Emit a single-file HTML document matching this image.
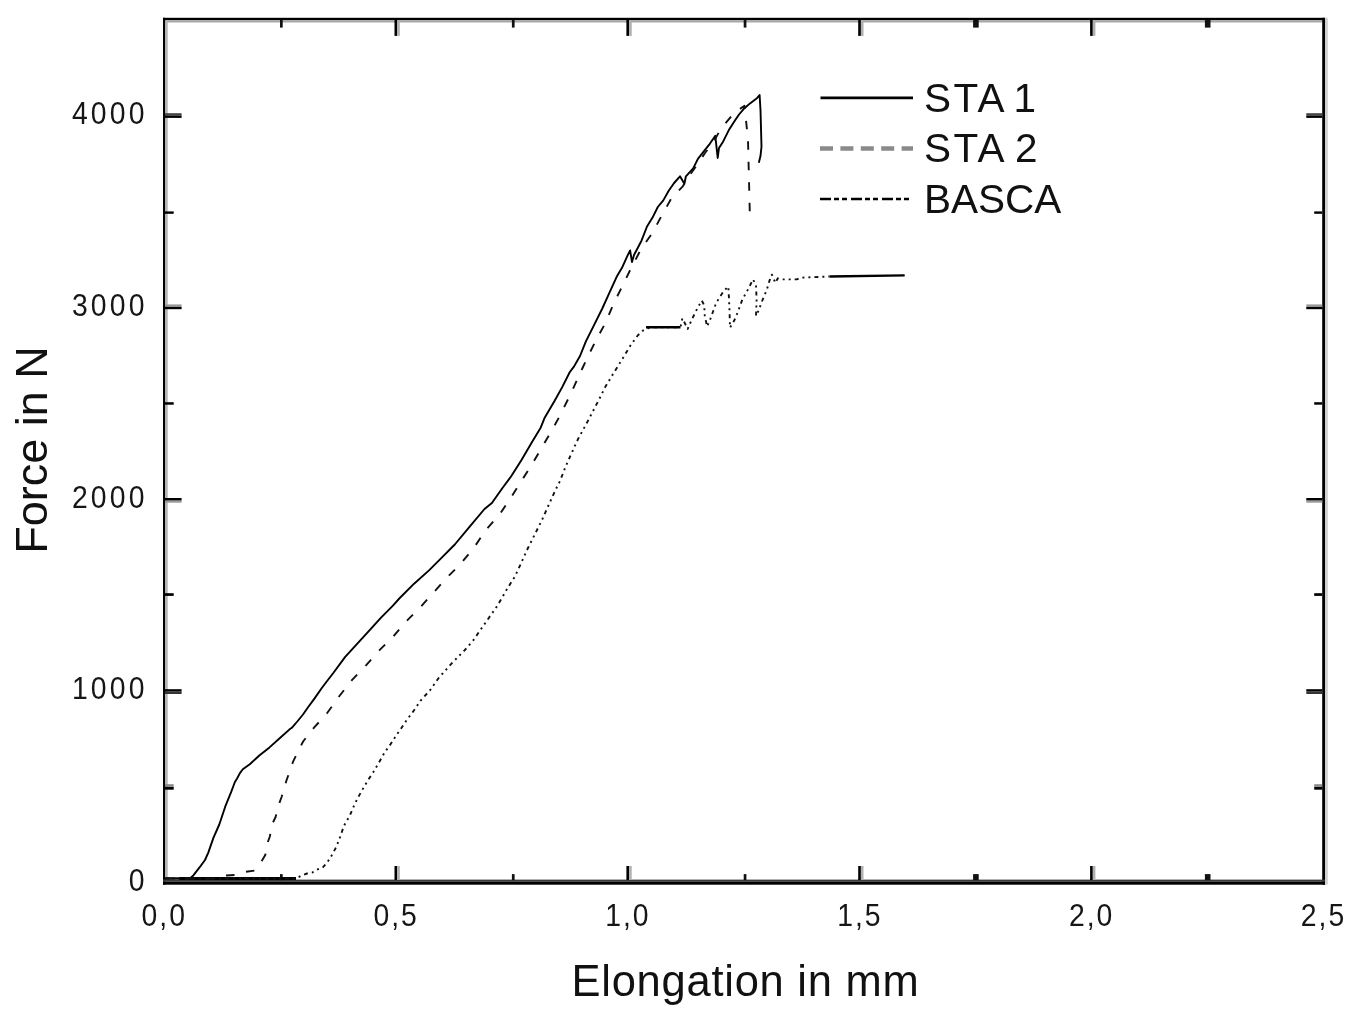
<!DOCTYPE html>
<html><head><meta charset="utf-8"><title>Force vs Elongation</title>
<style>
html,body{margin:0;padding:0;background:#fff;width:1359px;height:1012px;overflow:hidden}
svg{display:block}
text{font-family:"Liberation Sans", Arial, sans-serif;fill:#111}
text.tk{fill:#161616}
</style></head>
<body>
<svg width="1359" height="1012" viewBox="0 0 1359 1012">
<rect width="1359" height="1012" fill="#fff"/>
<rect x="163.0" y="17.8" width="1162.0" height="2.4" fill="#000"/>
<rect x="165.3" y="20.2" width="1156.9" height="2.3" fill="#a8a8a8"/>
<rect x="163.0" y="17.8" width="2.3" height="866.9" fill="#000"/>
<rect x="165.3" y="20.2" width="2.4" height="859.4" fill="#b4b4b4"/>
<rect x="1322.2" y="17.8" width="2.8" height="866.9" fill="#000"/>
<rect x="1325" y="17.8" width="2.8" height="866.9" fill="#d0d0d0"/>
<rect x="163.0" y="879.6" width="1162.0" height="2.2" fill="#3c3c3c"/>
<rect x="163.0" y="881.8" width="1162.0" height="2.9" fill="#000"/>
<rect x="165" y="784.2" width="8.7" height="2.4" fill="#8a8a8a"/>
<rect x="1314.2" y="784.2" width="8" height="2.4" fill="#8a8a8a"/>
<rect x="165" y="786.8" width="8.7" height="2.9" fill="#000"/>
<rect x="1314.2" y="786.8" width="8" height="2.9" fill="#000"/>
<rect x="165" y="691.7" width="16.6" height="2.3" fill="#333"/>
<rect x="165" y="689.2" width="16.6" height="2.4" fill="#000"/>
<rect x="1306.3" y="691.7" width="16" height="2.3" fill="#333"/>
<rect x="1306.3" y="689.2" width="16" height="2.4" fill="#000"/>
<rect x="165" y="593.2" width="8.7" height="2.7" fill="#000"/>
<rect x="1314.2" y="593.2" width="8" height="2.7" fill="#000"/>
<rect x="165" y="500.4" width="16.6" height="2.3" fill="#999"/>
<rect x="165" y="498.0" width="16.6" height="2.4" fill="#000"/>
<rect x="1306.3" y="500.4" width="16" height="2.3" fill="#999"/>
<rect x="1306.3" y="498.0" width="16" height="2.4" fill="#000"/>
<rect x="165" y="402.2" width="8.7" height="2.5" fill="#000"/>
<rect x="1314.2" y="402.2" width="8" height="2.5" fill="#000"/>
<rect x="165" y="304.4" width="16.6" height="2.3" fill="#999"/>
<rect x="165" y="306.8" width="16.6" height="2.4" fill="#000"/>
<rect x="1306.3" y="304.4" width="16" height="2.3" fill="#999"/>
<rect x="1306.3" y="306.8" width="16" height="2.4" fill="#000"/>
<rect x="165" y="211.4" width="8.7" height="2.4" fill="#000"/>
<rect x="1314.2" y="211.4" width="8" height="2.4" fill="#000"/>
<rect x="165" y="113.2" width="16.6" height="2.3" fill="#444"/>
<rect x="165" y="115.5" width="16.6" height="2.4" fill="#000"/>
<rect x="1306.3" y="113.2" width="16" height="2.3" fill="#444"/>
<rect x="1306.3" y="115.5" width="16" height="2.4" fill="#000"/>
<rect x="280.0" y="20" width="2.7" height="7.6" fill="#111"/>
<rect x="280.0" y="874.1" width="2.7" height="6" fill="#111"/>
<rect x="394.5" y="20" width="2.7" height="15.9" fill="#000"/>
<rect x="397.2" y="20" width="2.6" height="15.9" fill="#b0b0b0"/>
<rect x="394.5" y="866" width="2.7" height="14" fill="#000"/>
<rect x="397.2" y="866" width="2.6" height="14" fill="#b0b0b0"/>
<rect x="511.9" y="20" width="2.7" height="7.6" fill="#111"/>
<rect x="511.9" y="874.1" width="2.7" height="6" fill="#111"/>
<rect x="626.4" y="20" width="2.7" height="15.9" fill="#000"/>
<rect x="629.1" y="20" width="2.6" height="15.9" fill="#b0b0b0"/>
<rect x="626.4" y="866" width="2.7" height="14" fill="#000"/>
<rect x="629.1" y="866" width="2.6" height="14" fill="#b0b0b0"/>
<rect x="743.7" y="20" width="2.7" height="7.6" fill="#111"/>
<rect x="743.7" y="874.1" width="2.7" height="6" fill="#111"/>
<rect x="858.2" y="20" width="2.7" height="15.9" fill="#000"/>
<rect x="860.9" y="20" width="2.6" height="15.9" fill="#b0b0b0"/>
<rect x="858.2" y="866" width="2.7" height="14" fill="#000"/>
<rect x="860.9" y="866" width="2.6" height="14" fill="#b0b0b0"/>
<rect x="973.1" y="20" width="5.6" height="7.6" fill="#111"/>
<rect x="973.1" y="874.1" width="5.6" height="6" fill="#111"/>
<rect x="1090.1" y="20" width="2.7" height="15.9" fill="#000"/>
<rect x="1092.8" y="20" width="2.6" height="15.9" fill="#b0b0b0"/>
<rect x="1090.1" y="866" width="2.7" height="14" fill="#000"/>
<rect x="1092.8" y="866" width="2.6" height="14" fill="#b0b0b0"/>
<rect x="1204.9" y="20" width="5.6" height="7.6" fill="#111"/>
<rect x="1204.9" y="874.1" width="5.6" height="6" fill="#111"/>
<rect x="165.3" y="877" width="13.5" height="2.8" fill="#8c8c8c"/>
<rect x="178.8" y="877" width="117.2" height="3" fill="#000"/>
<polyline points="165.0,878.5 190.0,878.5 193.0,875.8 199.7,867.2 205.0,860.0 208.3,852.6 213.4,837.9 219.3,824.5 225.2,806.7 231.2,791.9 234.9,782.0 237.1,778.5 239.9,773.1 242.8,769.2 249.8,764.2 259.6,755.3 269.5,747.4 279.4,738.5 289.3,729.6 291.8,727.8 297.7,721.0 303.0,714.5 308.4,706.8 313.7,699.6 322.0,687.8 327.3,680.7 333.3,673.0 345.2,656.9 357.1,643.9 369.0,630.8 380.8,617.8 392.7,605.9 399.3,598.5 414.1,583.7 429.0,570.4 440.0,559.4 454.8,544.5 469.7,526.7 484.5,509.0 491.9,503.0 502.3,488.2 511.2,476.3 521.5,460.0 531.9,442.2 540.8,427.4 544.4,418.3 554.8,400.5 562.2,387.1 569.7,372.3 574.1,366.4 580.0,356.0 586.0,341.2 593.4,326.3 602.3,308.5 609.7,292.2 617.1,275.9 622.0,267.8 627.4,255.9 630.1,250.4 632.0,262.0 634.0,255.0 641.5,240.7 647.0,226.5 652.4,217.8 657.8,207.0 663.3,200.4 668.7,190.7 674.1,183.0 680.0,176.3 684.4,183.7 685.9,176.3 693.2,168.3 697.9,158.8 704.2,150.9 709.8,143.8 715.3,135.8 717.7,158.0 719.0,148.0 723.2,141.4 728.7,130.3 734.3,121.6 739.0,114.5 744.5,108.2 750.0,103.4 757.2,97.9 759.6,95.0 760.5,110.0 761.5,146.7 760.5,156.0 758.8,162.7" fill="none" stroke="#000" stroke-width="1.9" stroke-linejoin="round"/>
<polyline points="165.0,878.5 216.3,878.5 225.2,875.5 235.6,875.0 244.5,872.0 254.9,870.5 262.3,860.0 265.3,855.0 266.7,845.0 269.7,837.0 272.7,823.0 275.6,817.0 278.6,805.0 281.6,797.0 286.3,781.0 293.2,761.3 303.1,741.5 314.0,727.7 326.8,713.5 339.4,696.0 351.9,680.1 366.0,665.3 380.0,649.7 393.4,636.4 406.7,620.8 420.8,606.7 434.1,591.9 447.5,577.0 459.3,565.3 474.1,547.5 486.0,529.7 499.3,514.9 511.2,497.1 521.5,480.8 531.9,464.5 542.3,446.7 552.7,428.9 559.3,416.8 571.1,393.1 578.5,376.7 587.4,357.5 596.3,339.7 605.2,323.4 614.1,302.6 623.0,284.8 630.7,268.9 641.5,248.3 652.4,233.0 661.1,216.7 671.4,198.3 682.8,186.3 690.4,174.3 697.0,165.0 705.0,153.0 713.0,143.0 720.0,130.3 725.6,123.2 733.5,113.7 739.8,109.0 744.5,105.8 746.0,120.0 748.0,140.0 750.0,221.0" fill="none" stroke="#111" stroke-width="1.9" stroke-dasharray="8.5 12" stroke-linejoin="round"/>
<polyline points="165.0,878.5 296.0,878.5 301.7,875.5 307.0,873.5 312.3,872.5 316.3,870.0 323.0,867.2 327.5,862.0 332.2,854.6 336.4,846.7 340.9,834.9 343.8,826.0 349.8,815.6 354.2,805.2 357.4,798.7 362.8,788.9 368.3,779.7 373.7,771.5 379.7,761.2 384.6,752.5 390.5,744.3 395.4,736.7 401.4,728.0 406.8,719.9 412.3,712.8 420.4,700.9 430.2,690.0 439.3,677.1 452.7,662.3 464.5,650.4 473.4,640.1 486.8,620.8 497.2,606.0 507.5,588.2 515.0,576.3 520.1,565.3 527.5,549.0 534.9,534.2 542.3,519.3 548.2,506.0 555.6,489.7 560.1,480.8 565.3,467.4 570.5,455.6 577.9,439.3 586.8,423.0 599.3,399.0 605.2,387.1 614.1,372.3 621.5,360.4 630.4,345.6 637.9,335.2 643.0,330.5 647.0,328.5 654.0,327.2 680.5,327.2 682.4,318.3 687.7,328.9 691.8,319.5 697.7,307.7 701.8,300.6 704.2,305.3 704.8,315.9 707.1,326.5 710.6,318.3 715.3,305.3 718.3,299.4 723.6,291.2 728.3,286.5 728.9,297.0 729.5,310.0 730.0,327.7 734.2,320.6 737.7,312.4 742.4,299.4 748.3,288.9 753.0,279.4 756.0,285.3 756.6,299.4 756.0,315.9 758.9,310.0 761.3,303.0 764.2,295.9 767.1,288.9 769.5,280.6 771.9,274.7 775.4,283.0 777.7,278.3 781.3,279.4 796.6,279.4 802.0,277.6 829.6,276.5" fill="none" stroke="#111" stroke-width="1.9" stroke-dasharray="4 4 2 4 2 4" stroke-linejoin="round"/>
<polyline points="829.6,276.5 904.7,275.4" fill="none" stroke="#000" stroke-width="2.4"/>
<line x1="646" y1="327.2" x2="680.5" y2="327.2" stroke="#000" stroke-width="2.4"/>
<line x1="820.5" y1="97.9" x2="913" y2="97.9" stroke="#000" stroke-width="2.8"/>
<line x1="820" y1="148.5" x2="913" y2="148.5" stroke="#8a8a8a" stroke-width="4.6" stroke-dasharray="13 7.4"/>
<line x1="820" y1="199" x2="911" y2="199" stroke="#000" stroke-width="2.7" stroke-dasharray="11 3 5 3 5 4"/>
<text class="tk" transform="translate(147.6,890.5) scale(0.9,1)" font-size="31.5" text-anchor="end" letter-spacing="3.5">0</text>
<text class="tk" transform="translate(147.6,699.3) scale(0.9,1)" font-size="31.5" text-anchor="end" letter-spacing="3.5">1000</text>
<text class="tk" transform="translate(147.6,508.4) scale(0.9,1)" font-size="31.5" text-anchor="end" letter-spacing="3.5">2000</text>
<text class="tk" transform="translate(147.6,316.2) scale(0.9,1)" font-size="31.5" text-anchor="end" letter-spacing="3.5">3000</text>
<text class="tk" transform="translate(147.6,123.6) scale(0.9,1)" font-size="31.5" text-anchor="end" letter-spacing="3.5">4000</text>
<text class="tk" transform="translate(164.2,925.8) scale(0.9,1)" font-size="31.5" text-anchor="middle" letter-spacing="2.2">0,0</text>
<text class="tk" transform="translate(396.1,925.8) scale(0.9,1)" font-size="31.5" text-anchor="middle" letter-spacing="2.2">0,5</text>
<text class="tk" transform="translate(627.9,925.8) scale(0.9,1)" font-size="31.5" text-anchor="middle" letter-spacing="2.2">1,0</text>
<text class="tk" transform="translate(859.8,925.8) scale(0.9,1)" font-size="31.5" text-anchor="middle" letter-spacing="2.2">1,5</text>
<text class="tk" transform="translate(1091.6,925.8) scale(0.9,1)" font-size="31.5" text-anchor="middle" letter-spacing="2.2">2,0</text>
<text class="tk" transform="translate(1323.5,925.8) scale(0.9,1)" font-size="31.5" text-anchor="middle" letter-spacing="2.2">2,5</text>
<text x="745.5" y="996.3" font-size="43.5" text-anchor="middle" letter-spacing="0.75">Elongation in mm</text>
<text transform="translate(47,450) rotate(-90)" x="0" y="0" font-size="45" text-anchor="middle">Force in N</text>
<text x="924" y="112.2" font-size="40.5" letter-spacing="2.4">STA</text>
<text x="1013.5" y="112.2" font-size="40.5">1</text>
<text x="924" y="161.7" font-size="40.5" letter-spacing="2.4">STA</text>
<text x="1015" y="161.7" font-size="40.5">2</text>
<text x="924" y="213.2" font-size="40.5">BASCA</text>
</svg>
</body></html>
